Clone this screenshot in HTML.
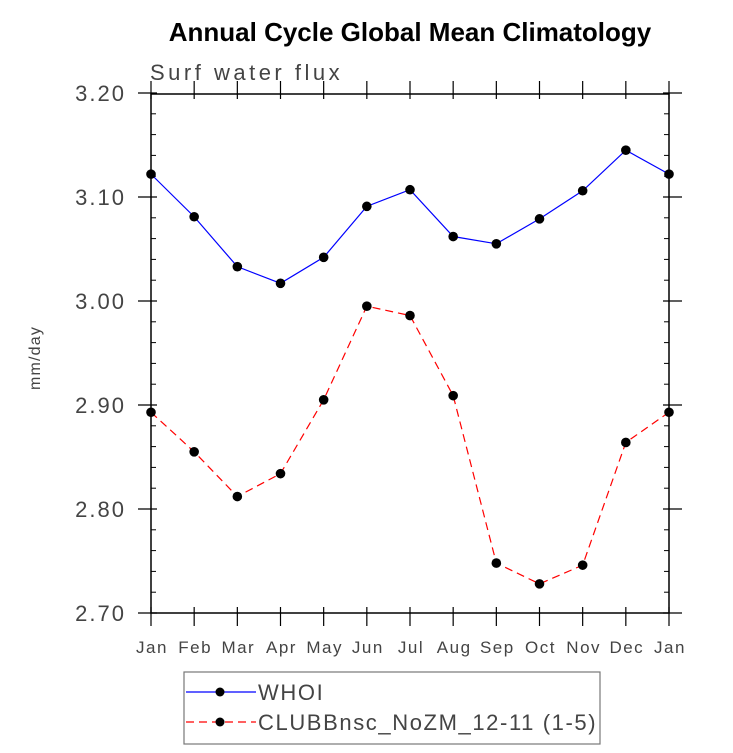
<!DOCTYPE html>
<html><head><meta charset="utf-8"><style>
body{margin:0;background:#fff}
svg text{font-family:"Liberation Sans",sans-serif}
</style></head><body>
<svg width="733" height="748" id="c">
<text x="410" y="41" text-anchor="middle" font-size="26" font-weight="bold">Annual Cycle Global Mean Climatology</text>
<text x="150" y="80" font-size="22" fill="#444" letter-spacing="3.5">Surf water flux</text>
<text transform="translate(40,358) rotate(-90)" text-anchor="middle" font-size="16" fill="#444" letter-spacing="1.2">mm/day</text>
<rect x="151" y="94" width="518" height="519" fill="none" stroke="#000" stroke-width="1.5"/>
<g id="ticks"></g><g id="series"></g>
<rect x="184" y="672" width="416" height="72" fill="none" stroke="#777" stroke-width="1.2"/>
<g>
<line x1="186" y1="692" x2="256" y2="692" stroke="#0000ff" stroke-width="1.2"/><circle cx="220" cy="692" r="4.5"/>
<text x="258" y="700" font-size="22" fill="#444" letter-spacing="1.6">WHOI</text></g>
<g>
<line x1="186" y1="722" x2="256" y2="722" stroke="#ff0000" stroke-width="1.2" stroke-dasharray="8,5"/><circle cx="220" cy="722" r="4.5"/>
<text x="258" y="730" font-size="22" fill="#444" letter-spacing="1.6">CLUBBnsc_NoZM_12-11 (1-5)</text></g>
</svg>
<script>
const months=["Jan","Feb","Mar","Apr","May","Jun","Jul","Aug","Sep","Oct","Nov","Dec","Jan"];
const yTicks=["2.70","2.80","2.90","3.00","3.10","3.20"];
const whoi=[3.122,3.081,3.033,3.017,3.042,3.091,3.107,3.062,3.055,3.079,3.106,3.145,3.122];
const clubb=[2.893,2.855,2.812,2.834,2.905,2.995,2.986,2.909,2.748,2.728,2.746,2.864,2.893];
const NS="http://www.w3.org/2000/svg";
const X=i=>151+i*518/12, Y=v=>613-(v-2.7)*1040;
function mk(t,a,p){const e=document.createElementNS(NS,t);for(const k in a)e.setAttribute(k,a[k]);p.appendChild(e);return e;}
const tk=document.getElementById('ticks');
months.forEach((m,i)=>{const x=X(i);
mk('line',{x1:x,y1:607,x2:x,y2:626,stroke:'#000','stroke-width':1.2},tk);
mk('line',{x1:x,y1:81,x2:x,y2:99,stroke:'#000','stroke-width':1.2},tk);
const t=mk('text',{x:x+1,y:653,'text-anchor':'middle','font-size':17,fill:'#444','letter-spacing':1.5},tk);t.textContent=m;

});
yTicks.forEach((s,i)=>{const y=Y(+s);
mk('line',{x1:138,y1:y,x2:157,y2:y,stroke:'#000','stroke-width':1.2},tk);
mk('line',{x1:663,y1:y,x2:682,y2:y,stroke:'#000','stroke-width':1.2},tk);
const t=mk('text',{x:126,y:y+8,'text-anchor':'end','font-size':22,fill:'#444','letter-spacing':2},tk);t.textContent=s;


if(i<5)for(let j=1;j<5;j++){const yy=Y(+s+j*0.02);
mk('line',{x1:151,y1:yy,x2:156,y2:yy,stroke:'#000'},tk);mk('line',{x1:664,y1:yy,x2:669,y2:yy,stroke:'#000'},tk);}});
const sg=document.getElementById('series');
function draw(d,col,dash,name){const g=mk('g',{},sg);


mk('polyline',{points:d.map((v,i)=>X(i)+','+Y(v)).join(' '),fill:'none',stroke:col,'stroke-width':1.2,'stroke-dasharray':dash},g);
d.forEach((v,i)=>{const c=mk('circle',{cx:X(i),cy:Y(v),r:4.8},g);

});}
draw(whoi,'#0000ff','none','series-whoi');
draw(clubb,'#ff0000','8,5','series-clubb');
</script>
</body></html>
